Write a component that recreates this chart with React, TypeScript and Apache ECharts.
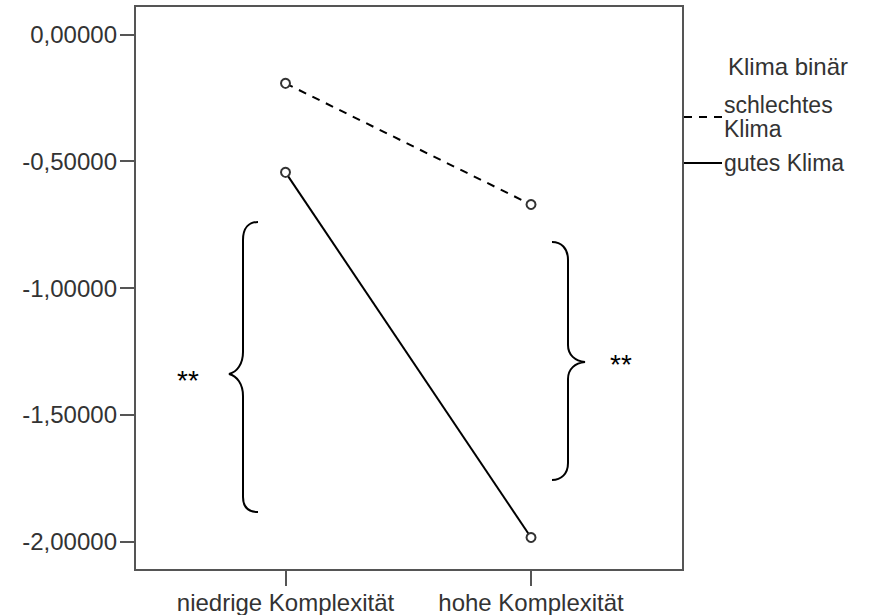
import React, { useEffect, useRef } from "react";
import * as echarts from "echarts";

const categories = ["niedrige Komplexität", "hohe Komplexität"];
const seriesNames = ["schlechtes Klima", "gutes Klima"];
const schlechtesKlima = [-0.193, -0.671];
const gutesKlima = [-0.544, -1.984];
const yTicks = [0, -0.5, -1, -1.5, -2];
const legendTitle = "Klima binär";
const significance = "**";

const LEFT_BRACE =
  "M 258 222 C 249 222 243 228 243 240 L 243 352 C 243 364 237 372 229 374 C 237 376 243 384 243 396 L 243 497 C 243 508 249 512 258 512";
const RIGHT_BRACE =
  "M 552 242 C 561 242 568 248 568 260 L 568 345 C 568 355 575 361 585 362 C 575 363 568 369 568 379 L 568 463 C 568 474 561 480 552 480";

let registered = false;
function registerShapes() {
  if (registered) return;
  echarts.graphic.registerShape("leftBrace", echarts.graphic.extendPath(LEFT_BRACE, {}));
  echarts.graphic.registerShape("rightBrace", echarts.graphic.extendPath(RIGHT_BRACE, {}));
  registered = true;
}

const FONT = "Liberation Sans, Arial, sans-serif";
const FRAME = "#555555";
const TEXT = "#333333";

export default function App() {
  const ref = useRef<HTMLDivElement>(null);
  useEffect(() => {
    document.body.style.margin = "0";
    registerShapes();
    const chart = echarts.init(ref.current!, undefined, { renderer: "svg" });
    const toData = (vals: number[]) => vals.map((v, i) => [i, v]);
    chart.setOption({
      animation: false,
      backgroundColor: "#ffffff",
      textStyle: { fontFamily: FONT },
      title: {
        text: legendTitle,
        left: 728,
        top: 54,
        padding: 0,
        textStyle: { fontSize: 24, fontWeight: "normal", color: TEXT, fontFamily: FONT },
      },
      legend: {
        orient: "vertical",
        left: 683,
        top: 93,
        itemWidth: 38,
        itemHeight: 14,
        itemGap: 10,
        padding: 0,
        data: seriesNames,
        formatter: (name: string) => (name === "schlechtes Klima" ? "schlechtes\nKlima" : name),
        textStyle: { fontSize: 23, lineHeight: 24, color: TEXT, fontFamily: FONT, padding: [0, 0, 0, -3] },
        itemStyle: { opacity: 0 },
      },
      grid: {
        left: 135,
        right: 186,
        top: 6,
        bottom: 45,
        show: true,
        borderColor: FRAME,
        borderWidth: 2,
        containLabel: false,
      },
      xAxis: {
        type: "value",
        min: -0.613,
        max: 1.619,
        splitLine: { show: false },
        axisLine: { show: true, onZero: false, lineStyle: { color: FRAME, width: 2 } },
        axisTick: {
          show: true,
          inside: false,
          length: 16,
          customValues: [0, 1],
          lineStyle: { color: FRAME, width: 2 },
        },
        axisLabel: {
          customValues: [0, 1],
          margin: 20,
          fontSize: 24,
          color: TEXT,
          fontFamily: FONT,
          formatter: (v: number) => categories[Math.round(v)] ?? "",
        },
      },
      yAxis: {
        type: "value",
        min: -2.112,
        max: 0.112,
        splitLine: { show: false },
        axisLine: { show: true, onZero: false, lineStyle: { color: FRAME, width: 2 } },
        axisTick: {
          show: true,
          inside: false,
          length: 15,
          customValues: yTicks,
          lineStyle: { color: FRAME, width: 2 },
        },
        axisLabel: {
          customValues: yTicks,
          margin: 18,
          fontSize: 24,
          color: TEXT,
          fontFamily: FONT,
          formatter: (v: number) => v.toFixed(5).replace(".", ","),
        },
      },
      series: [
        {
          name: seriesNames[0],
          type: "line",
          data: toData(schlechtesKlima),
          symbol: "emptyCircle",
          symbolSize: 9,
          showSymbol: true,
          lineStyle: { color: "#000", width: 2, type: [8, 7] },
          itemStyle: { color: "#333", borderColor: "#333", borderWidth: 1.5 },
          z: 3,
        },
        {
          name: seriesNames[1],
          type: "line",
          data: toData(gutesKlima),
          symbol: "emptyCircle",
          symbolSize: 9,
          showSymbol: true,
          lineStyle: { color: "#000", width: 2, type: "solid" },
          itemStyle: { color: "#333", borderColor: "#333", borderWidth: 1.5 },
          z: 3,
        },
      ],
      graphic: [
        { type: "leftBrace", x: 0, y: 0, style: { stroke: "#000", lineWidth: 2, fill: null }, silent: true },
        { type: "rightBrace", x: 0, y: 0, style: { stroke: "#000", lineWidth: 2, fill: null }, silent: true },
        {
          type: "text",
          left: 177,
          top: 366,
          style: { text: significance, fontSize: 28, fill: "#000", fontFamily: FONT },
        },
        {
          type: "text",
          left: 610,
          top: 350,
          style: { text: significance, fontSize: 28, fill: "#000", fontFamily: FONT },
        },
      ],
    });
    return () => chart.dispose();
  }, []);
  return <div ref={ref} style={{ width: 869, height: 615 }} />;
}
